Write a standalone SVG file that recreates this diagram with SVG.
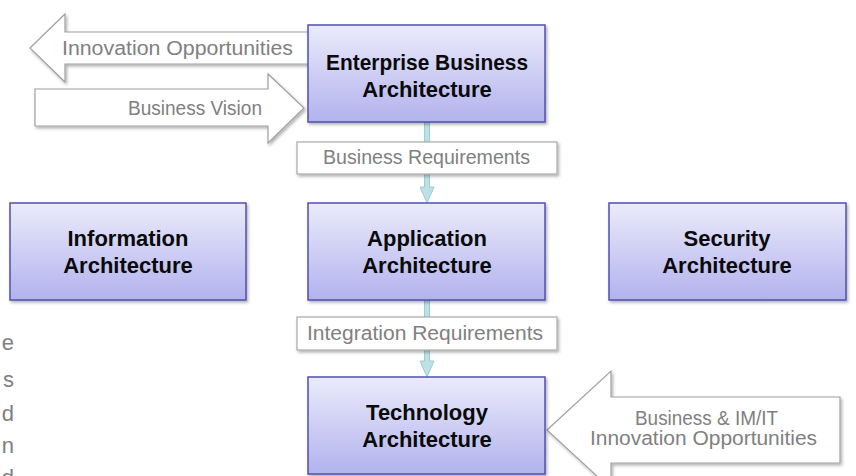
<svg xmlns="http://www.w3.org/2000/svg" width="856" height="476" viewBox="0 0 856 476">
  <defs>
    <linearGradient id="boxFill" x1="0" y1="0" x2="0" y2="1">
      <stop offset="0" stop-color="#ebebfb"/>
      <stop offset="1" stop-color="#b2b2ee"/>
    </linearGradient>
    <filter id="shadow" x="-10%" y="-10%" width="130%" height="140%">
      <feDropShadow dx="1.5" dy="2" stdDeviation="1.5" flood-color="#000" flood-opacity="0.3"/>
    </filter>
    <style>
      .box { fill: url(#boxFill); stroke: #4f4fb4; stroke-width: 1.5; filter: url(#shadow); }
      .title { font-family: "Liberation Sans", Arial, sans-serif; font-weight: bold; font-size: 22px; fill: #0a0a0a; text-anchor: middle; }
      .label { font-family: "Liberation Sans", Arial, sans-serif; font-size: 19.5px; fill: #808080; }
      .margin { font-family: "Liberation Sans", Arial, sans-serif; font-size: 22px; fill: #808080; text-anchor: end; }
      .tag { fill: #fff; stroke: #a8a8a8; stroke-width: 1.2; filter: url(#shadow); }
      .flow { fill: #fff; stroke: #a0a0a0; stroke-width: 1.2; filter: url(#shadow); }
      .link { fill: #bde1e4; stroke: #9fccd1; stroke-width: 1; }
    </style>
  </defs>

  <rect width="856" height="476" fill="#fff"/>

  <!-- margin text running off the left edge -->
  <g id="margin-text" class="margin">
    <text x="14" y="350">e</text>
    <text x="14" y="387">s</text>
    <text x="14" y="421">d</text>
    <text x="14" y="453">n</text>
    <text x="14" y="485">d</text>
  </g>

  <!-- vertical links between the central architecture boxes -->
  <g id="connectors">
    <polygon class="link" points="424.5,122 429.5,122 429.5,187 434,187 427,203 420,187 424.5,187"/>
    <polygon class="link" points="424.5,300 429.5,300 429.5,361 434,361 427,377 420,361 424.5,361"/>
  </g>

  <!-- block arrows for inbound / outbound flows -->
  <g id="flow-innovation">
    <polygon class="flow" points="30,48 65,14 65,32 320,32 320,64 65,64 65,82"/>
    <text class="label" x="62" y="55" textLength="231" lengthAdjust="spacingAndGlyphs">Innovation Opportunities</text>
  </g>
  <g id="flow-vision">
    <polygon class="flow" points="35,89 268,89 268,74 304,108 268,143 268,126 35,126"/>
    <text class="label" x="128" y="115" textLength="134" lengthAdjust="spacingAndGlyphs">Business Vision</text>
  </g>
  <g id="flow-it-innovation">
    <polygon class="flow" points="547,430 611,371 611,397 840,397 840,463 611,463 611,489"/>
    <text class="label" x="635" y="425" textLength="143" lengthAdjust="spacingAndGlyphs">Business &amp; IM/IT</text>
    <text class="label" x="590" y="445" textLength="227" lengthAdjust="spacingAndGlyphs">Innovation Opportunities</text>
  </g>

  <!-- requirement tags sitting on the links -->
  <g id="tag-business-req">
    <rect class="tag" x="297" y="142" width="260" height="32"/>
    <text class="label" x="323" y="164" textLength="207" lengthAdjust="spacingAndGlyphs">Business Requirements</text>
  </g>
  <g id="tag-integration-req">
    <rect class="tag" x="297" y="317" width="260" height="33"/>
    <text class="label" x="307" y="340" textLength="236" lengthAdjust="spacingAndGlyphs">Integration Requirements</text>
  </g>

  <!-- architecture boxes -->
  <g id="enterprise-business">
    <rect class="box" x="308" y="25" width="237" height="97"/>
    <text class="title" x="427" y="70" textLength="202" lengthAdjust="spacingAndGlyphs">Enterprise Business</text>
    <text class="title" x="427" y="97">Architecture</text>
  </g>
  <g id="information">
    <rect class="box" x="10" y="203" width="236" height="97"/>
    <text class="title" x="128" y="246">Information</text>
    <text class="title" x="128" y="273">Architecture</text>
  </g>
  <g id="application">
    <rect class="box" x="308" y="203" width="237" height="97"/>
    <text class="title" x="427" y="246">Application</text>
    <text class="title" x="427" y="273">Architecture</text>
  </g>
  <g id="security">
    <rect class="box" x="609" y="203" width="237" height="97"/>
    <text class="title" x="727" y="246">Security</text>
    <text class="title" x="727" y="273">Architecture</text>
  </g>
  <g id="technology">
    <rect class="box" x="308" y="377" width="237" height="97"/>
    <text class="title" x="427" y="420">Technology</text>
    <text class="title" x="427" y="447">Architecture</text>
  </g>
</svg>
